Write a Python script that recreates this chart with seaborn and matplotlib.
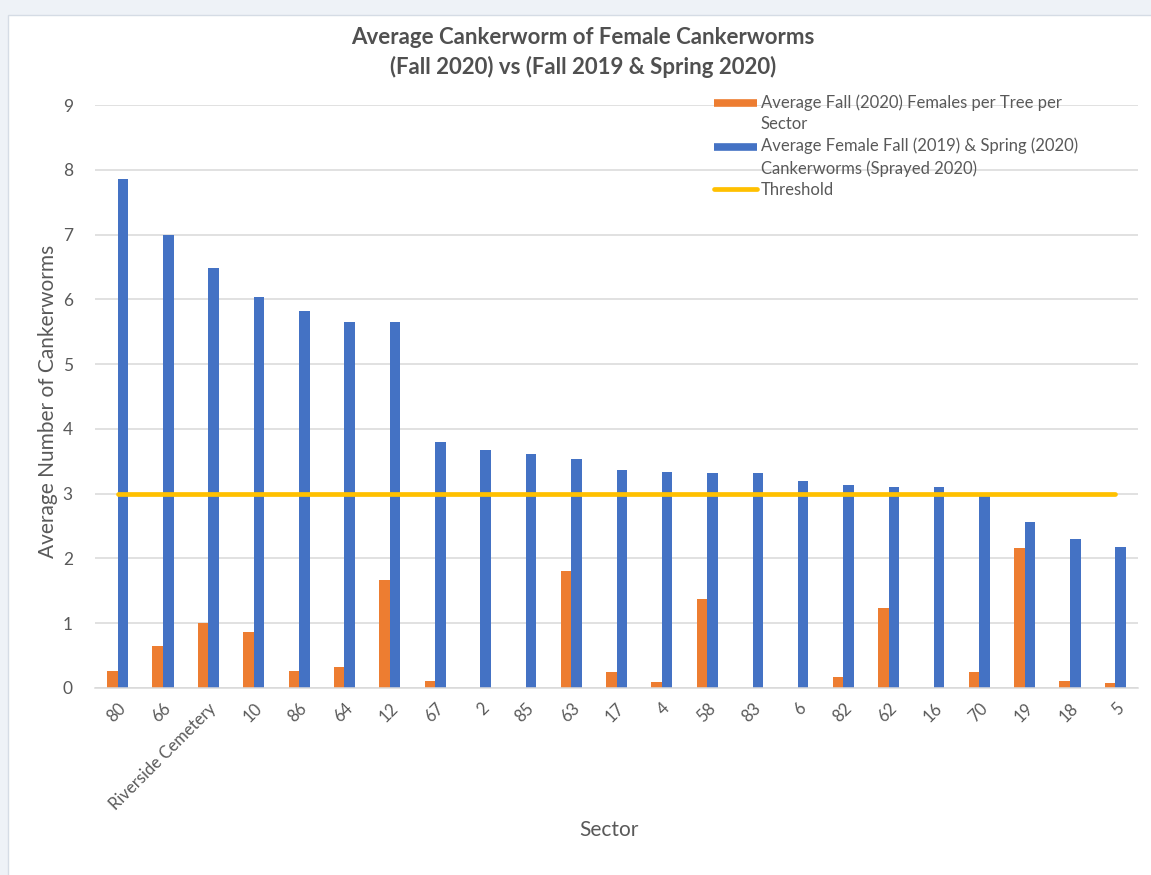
import numpy as np
import pandas as pd
import matplotlib
matplotlib.use("Agg")
import matplotlib.pyplot as plt
from matplotlib.lines import Line2D
from matplotlib.patches import Rectangle
from matplotlib.legend_handler import HandlerBase
import seaborn as sns

# Sectors, ordered by the Fall 2019 & Spring 2020 average
sectors = ["80", "66", "Riverside Cemetery", "10", "86", "64", "12", "67", "2", "85",
           "63", "17", "4", "58", "83", "6", "82", "62", "16", "70", "19", "18", "5"]

# Average Fall (2020) females per tree per sector
fall_2020 = [0.27, 0.65, 1.00, 0.86, 0.27, 0.32, 1.66, 0.11, 0.00, 0.00,
             1.81, 0.25, 0.10, 1.37, 0.00, 0.00, 0.17, 1.24, 0.00, 0.25, 2.16, 0.11, 0.08]

# Average female Fall (2019) & Spring (2020) cankerworms (sprayed 2020)
fall_spring = [7.85, 7.00, 6.48, 6.03, 5.82, 5.65, 5.65, 3.80, 3.67, 3.61,
               3.53, 3.37, 3.34, 3.32, 3.32, 3.19, 3.13, 3.11, 3.11, 2.97, 2.57, 2.30, 2.17]

# Spray threshold
threshold = [3, 3, 3, 3, 3, 3, 3, 3, 3, 3, 3, 3, 3, 3, 3, 3, 3, 3, 3, 3, 3, 3, 3]

series_names = ["Average Fall (2020) Females per Tree per\nSector",
                "Average Female Fall (2019) & Spring (2020)\nCankerworms (Sprayed 2020)"]
threshold_name = "Threshold"

title_lines = ["Average Cankerworm of Female Cankerworms",
               "(Fall 2020) vs (Fall 2019 & Spring 2020)"]

ORANGE = "#ED7D31"
BLUE = "#4472C4"
GOLD = "#FFC000"
GRID = "#D9D9D9"
TEXT = "#595959"


class TopLineHandler(HandlerBase):
    """Legend key drawn level with the first line of a wrapped label."""

    def __init__(self, dy=0.0, **kw):
        super().__init__(**kw)
        self.dy = dy

    def create_artists(self, legend, orig_handle, xdescent, ydescent,
                       width, height, fontsize, trans):
        y = height / 2 - ydescent + self.dy
        line = Line2D([-xdescent, width - xdescent], [y, y],
                      color=orig_handle.get_color(),
                      linewidth=orig_handle.get_linewidth(),
                      solid_capstyle=orig_handle.get_solid_capstyle())
        line.set_transform(trans)
        return [line]


sns.set_theme(style="white")
plt.rcParams["font.family"] = ["Lato", "DejaVu Sans"]

df = pd.DataFrame({
    "Sector": sectors * 2,
    "Series": [series_names[0]] * len(sectors) + [series_names[1]] * len(sectors),
    "Value": fall_2020 + fall_spring,
})

W, H = 1151, 875
fig = plt.figure(figsize=(W / 100, H / 100), dpi=100)
fig.patch.set_facecolor("#EEF2F7")
fig.patches.append(Rectangle((8 / W, -0.01), 1.0, 1.01 - 15 / H, transform=fig.transFigure,
                             facecolor="white", edgecolor="#D5DCE5", linewidth=1.0,
                             zorder=-10))

ax = fig.add_axes([95 / W, (H - 688) / H, (1138 - 95) / W, (688 - 105) / H])
ax.set_facecolor("none")

sns.barplot(data=df, x="Sector", y="Value", hue="Series", order=sectors,
            hue_order=series_names, palette=[ORANGE, BLUE], width=0.465,
            dodge=True, linewidth=0, saturation=1, legend=False, ax=ax, zorder=2)

pos = np.arange(len(sectors))
sns.lineplot(x=pos, y=threshold, color=GOLD, linewidth=3.4, ax=ax,
             legend=False, zorder=3, solid_capstyle="round")

ax.set_xlim(-0.5, len(sectors) - 0.5)
ax.set_ylim(0, 9)
ax.set_yticks(range(0, 10))
ax.yaxis.grid(True, color=GRID, linewidth=1.1, zorder=0)
ax.set_axisbelow(True)
for side in ["top", "right", "left"]:
    ax.spines[side].set_visible(False)
ax.spines["bottom"].set_color(GRID)
ax.spines["bottom"].set_linewidth(1.1)
ax.tick_params(axis="both", length=0, colors=TEXT)
ax.tick_params(axis="y", pad=16, labelsize=12.5)
ax.tick_params(axis="x", pad=9, labelsize=12)
ax.set_xticks(pos)
ax.set_xticklabels(sectors, rotation=45, ha="right", va="top", rotation_mode="anchor")

ax.set_xlabel("Sector", fontsize=15, color=TEXT)
ax.xaxis.set_label_coords((609 - 95) / (1138 - 95), (688 - 830) / (688 - 105))
ax.xaxis.label.set_verticalalignment("center")
ax.set_ylabel("Average Number of Cankerworms", fontsize=15, color=TEXT)
ax.yaxis.set_label_coords((48 - 95) / (1138 - 95), (688 - 401) / (688 - 105))
ax.yaxis.label.set_verticalalignment("center")

fig.text(583 / W, 1 - 37 / H, title_lines[0], ha="center", va="center",
         fontsize=16, fontweight="bold", color="#505050")
fig.text(583 / W, 1 - 67 / H, title_lines[1], ha="center", va="center",
         fontsize=16, fontweight="bold", color="#505050")

handles = [
    Line2D([0], [0], color=ORANGE, linewidth=5.5, solid_capstyle="butt"),
    Line2D([0], [0], color=BLUE, linewidth=5.5, solid_capstyle="butt"),
    Line2D([0], [0], color=GOLD, linewidth=3.4, solid_capstyle="round"),
]
handler_map = {
    handles[0]: TopLineHandler(dy=7.5),
    handles[1]: TopLineHandler(dy=7.5),
    handles[2]: TopLineHandler(dy=0.0),
}
leg = fig.legend(handles, series_names + [threshold_name], loc="upper left",
                 bbox_to_anchor=(714 / W, 1 - 94 / H), bbox_transform=fig.transFigure,
                 frameon=False, fontsize=12, handlelength=2.6, handletextpad=0.2,
                 borderpad=0, borderaxespad=0, labelspacing=0.3, labelcolor=TEXT,
                 handler_map=handler_map)
for t in leg.get_texts():
    t.set_linespacing(1.45)

fig.savefig("out.png", dpi=100, facecolor=fig.get_facecolor())
